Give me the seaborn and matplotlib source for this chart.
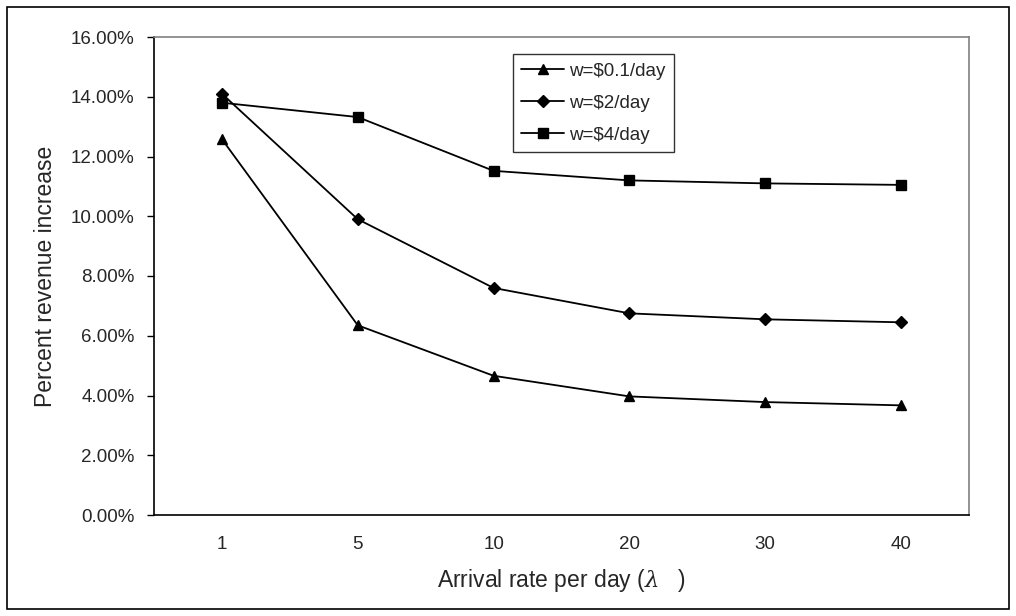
import matplotlib
matplotlib.use("Agg")
import matplotlib.pyplot as plt
import seaborn as sns
import pandas as pd
from matplotlib.ticker import PercentFormatter
from matplotlib.patches import Rectangle
from matplotlib.lines import Line2D

# ---- data ----
rates = ["1", "5", "10", "20", "30", "40"]
series_names = ["w=$0.1/day", "w=$2/day", "w=$4/day"]
w01 = [12.58, 6.35, 4.66, 3.97, 3.78, 3.67]
w2 = [14.10, 9.90, 7.60, 6.75, 6.55, 6.45]
w4 = [13.80, 13.32, 11.52, 11.20, 11.10, 11.05]
y_ticks = [0, 2, 4, 6, 8, 10, 12, 14, 16]

sns.set_theme(style="white")
plt.rcParams['font.family'] = ['Liberation Sans', 'DejaVu Sans']
plt.rcParams['mathtext.fontset'] = 'dejavuserif'

df = pd.DataFrame({
    "rate": rates * 3,
    "value": w01 + w2 + w4,
    "series": [series_names[0]] * 6 + [series_names[1]] * 6 + [series_names[2]] * 6,
})

fig = plt.figure(figsize=(10.16, 6.16), dpi=100)
ax = fig.add_axes([154 / 1016, 1 - 515 / 616, (969 - 154) / 1016, (515 - 37) / 616])

markers = ["^", "D", "s"]
sizes = [7, 6, 7]
for name, mk, ms in zip(series_names, markers, sizes):
    sub = df[df["series"] == name]
    sns.pointplot(data=sub, x="rate", y="value", order=rates, color="black",
                  marker=mk, markersize=ms, linewidth=1.3, ax=ax, errorbar=None)

ax.set_xlim(-0.5, 5.5)
ax.set_ylim(0, 16)
ax.set_yticks(y_ticks)
ax.yaxis.set_major_formatter(PercentFormatter(xmax=100, decimals=2))

# category boundary ticks on x
ax.set_xticks([i for i in range(6)])
ax.set_xticklabels(rates)
ax.tick_params(axis="x", which="major", length=0, pad=15, labelsize=13.5)
ax.set_xticks([i - 0.5 for i in range(7)], minor=True)
ax.tick_params(axis="x", which="minor", length=5, width=1, color="black", direction="out")
ax.tick_params(axis="y", length=5, width=1, color="black", direction="out", left=True,
               pad=9, labelsize=13.5)

for s in ["left", "bottom"]:
    ax.spines[s].set_color("black")
    ax.spines[s].set_linewidth(1.2)
for s in ["top", "right"]:
    ax.spines[s].set_color("#808080")
    ax.spines[s].set_linewidth(1.2)

ax.set_xlabel("Arrival rate per day ($\\lambda$   )", fontsize=16.5, labelpad=10)
ax.set_ylabel("Percent revenue increase", fontsize=16.5, labelpad=10)

handles = [Line2D([0], [0], color="black", marker=m, markersize=s, linewidth=1.3)
           for m, s in zip(markers, sizes)]
leg = ax.legend(handles, series_names, loc="upper left",
                bbox_to_anchor=((513 - 154) / 815, 1 - (54 - 37) / 478),
                frameon=True, fancybox=False, edgecolor="black", fontsize=13.5,
                handlelength=2.25, handletextpad=0.3, borderpad=0.45, labelspacing=0.8,
                borderaxespad=0)
leg.get_frame().set_linewidth(1.0)

fig.patches.append(Rectangle((7 / 1016, 7 / 616), 1002 / 1016, 602 / 616,
                             transform=fig.transFigure, fill=False,
                             edgecolor="black", linewidth=1.2))

fig.savefig("out.png", dpi=100)
